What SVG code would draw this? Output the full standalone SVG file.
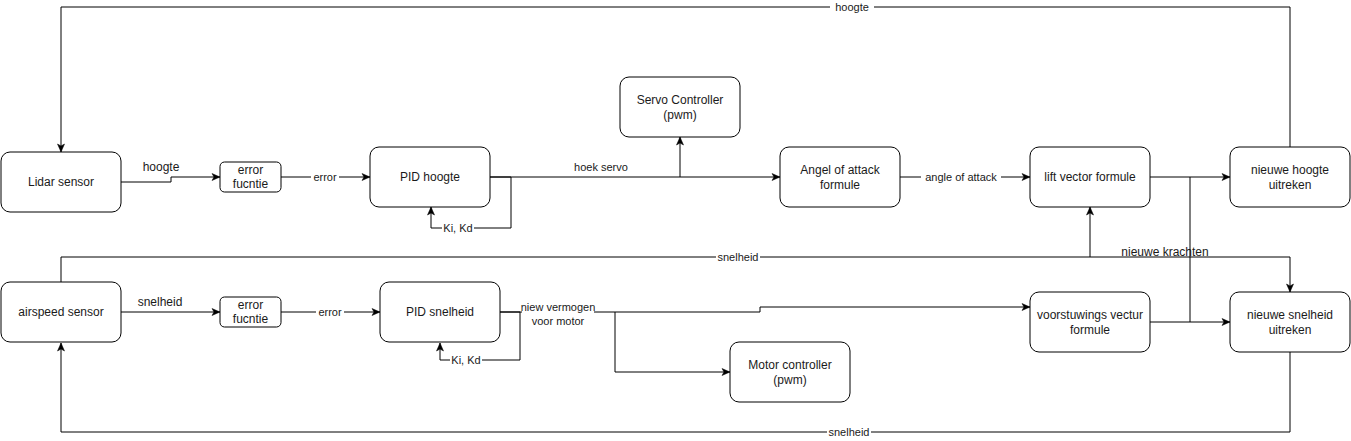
<svg xmlns="http://www.w3.org/2000/svg" width="1351" height="441" viewBox="0 0 1351 441">
<style>
.n rect{fill:#fff;stroke:#000;stroke-width:1}
.n text{font-family:"Liberation Sans",Arial,sans-serif;font-size:12px;fill:#1a1a1a;text-anchor:middle}
.c path{fill:none;stroke:#000;stroke-width:1}
.lb{font-family:"Liberation Sans",Arial,sans-serif;font-size:11px;fill:#1a1a1a;text-anchor:middle}
.lt{font-family:"Liberation Sans",Arial,sans-serif;font-size:12px;fill:#1a1a1a;text-anchor:middle}
.bg{fill:#fff;stroke:none}
</style>
<defs>
<marker id="ar" markerUnits="userSpaceOnUse" markerWidth="10" markerHeight="10" viewBox="0 0 10 10" refX="9" refY="5" orient="auto">
<path d="M1,1.5 L9,5 L1,8.5 L3,5 Z" fill="#000" stroke="#000" stroke-width="0.5"/>
</marker>
</defs>
<rect width="1351" height="441" fill="#fff"/>
<g class="c" id="connectors">
<path d="M121,182 H171 V177 H220" marker-end="url(#ar)"/>
<path d="M281,177 H370" marker-end="url(#ar)"/>
<path d="M490,177 H511 V228 H431 V207" marker-end="url(#ar)"/>
<path d="M490,177 H780" marker-end="url(#ar)"/>
<path d="M680,177 V137" marker-end="url(#ar)"/>
<path d="M900,177 H1030" marker-end="url(#ar)"/>
<path d="M1150,177 H1230" marker-end="url(#ar)"/>
<path d="M1150,322 H1230" marker-end="url(#ar)"/>
<path d="M1290,147 V7 H61 V152" marker-end="url(#ar)"/>
<path d="M121,312 H220" marker-end="url(#ar)"/>
<path d="M281,312 H380" marker-end="url(#ar)"/>
<path d="M500,312 H520 V360 H440 V343" marker-end="url(#ar)"/>
<path d="M500,312 H760 V307 H1030" marker-end="url(#ar)"/>
<path d="M615,312 V372 H730" marker-end="url(#ar)"/>
<path d="M61,282 V257 H1290 V292" marker-end="url(#ar)"/>
<path d="M1090,257 V207" marker-end="url(#ar)"/>
<path d="M1290,352 V432 H61 V343" marker-end="url(#ar)"/>
<text class="lt" x="1165" y="256">nieuwe krachten</text>
<path d="M1190,177 V322"/>
<text class="lt" x="161" y="171">hoogte</text>
<text class="lt" x="160" y="306">snelheid</text>
<text class="lb" x="601" y="171">hoek servo</text>
<rect class="bg" x="311" y="170" width="28" height="14"/>
<text class="lb" x="325" y="181">error</text>
<rect class="bg" x="316" y="305" width="28" height="14"/>
<text class="lb" x="330" y="316">error</text>
<rect class="bg" x="442" y="221" width="32" height="14"/>
<text class="lb" x="458" y="232">Ki, Kd</text>
<rect class="bg" x="450" y="353" width="32" height="14"/>
<text class="lb" x="466" y="364">Ki, Kd</text>
<rect class="bg" x="921" y="170" width="80" height="14"/>
<text class="lb" x="961" y="181">angle of attack</text>
<rect class="bg" x="830" y="0" width="44" height="14"/>
<text class="lb" x="852" y="11">hoogte</text>
<rect class="bg" x="716" y="250" width="44" height="14"/>
<text class="lb" x="738" y="261">snelheid</text>
<rect class="bg" x="827" y="425" width="44" height="14"/>
<text class="lb" x="849" y="436">snelheid</text>
<rect class="bg" x="522" y="300" width="72" height="28"/>
<text class="lb" x="558" y="311">niew vermogen</text>
<text class="lb" x="558" y="325">voor motor</text>
</g>
<g class="n" id="lidar"><rect x="1" y="152" width="120" height="60" rx="9"/><text x="61" y="186">Lidar sensor</text></g>
<g class="n" id="error1"><rect x="220" y="162" width="61" height="30" rx="4.5"/><text x="250.5" y="174">error</text><text x="250.5" y="188">fucntie</text></g>
<g class="n" id="pidhoogte"><rect x="370" y="147" width="120" height="60" rx="9"/><text x="430" y="181">PID hoogte</text></g>
<g class="n" id="servo"><rect x="620" y="77" width="120" height="60" rx="9"/><text x="680" y="104">Servo Controller</text><text x="680" y="119">(pwm)</text></g>
<g class="n" id="angel"><rect x="780" y="147" width="120" height="60" rx="9"/><text x="840" y="174">Angel of attack</text><text x="840" y="189">formule</text></g>
<g class="n" id="lift"><rect x="1030" y="147" width="120" height="60" rx="9"/><text x="1090" y="181">lift vector formule</text></g>
<g class="n" id="hoogte"><rect x="1230" y="147" width="120" height="60" rx="9"/><text x="1290" y="174">nieuwe hoogte</text><text x="1290" y="189">uitreken</text></g>
<g class="n" id="airspeed"><rect x="1" y="282" width="120" height="60" rx="9"/><text x="61" y="316">airspeed sensor</text></g>
<g class="n" id="error2"><rect x="220" y="297" width="61" height="30" rx="4.5"/><text x="250.5" y="309">error</text><text x="250.5" y="323">fucntie</text></g>
<g class="n" id="pidsnelheid"><rect x="380" y="282" width="120" height="60" rx="9"/><text x="440" y="316">PID snelheid</text></g>
<g class="n" id="motor"><rect x="730" y="342" width="120" height="60" rx="9"/><text x="790" y="369">Motor controller</text><text x="790" y="384">(pwm)</text></g>
<g class="n" id="voorstuwing"><rect x="1030" y="292" width="120" height="60" rx="9"/><text x="1090" y="319">voorstuwings vectur</text><text x="1090" y="334">formule</text></g>
<g class="n" id="snelheid"><rect x="1230" y="292" width="120" height="60" rx="9"/><text x="1290" y="319">nieuwe snelheid</text><text x="1290" y="334">uitreken</text></g>
</svg>
